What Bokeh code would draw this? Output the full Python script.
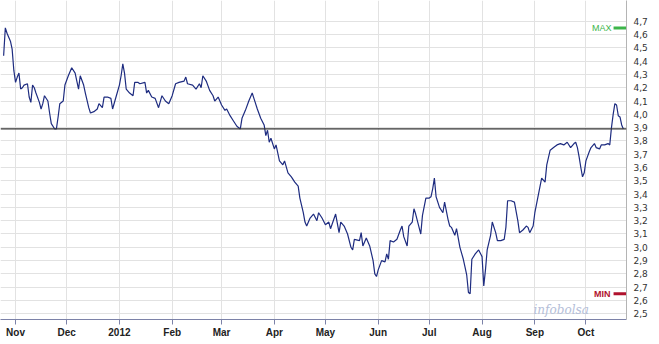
import pandas as pd
from bokeh.plotting import figure
from bokeh.models import (FixedTicker, CustomJSTickFormatter, Span, Label, Range1d)
from bokeh.embed import file_html
from bokeh.resources import INLINE

dates = [
    "2011-10-25", "2011-10-26", "2011-10-27", "2011-10-29", "2011-10-30", "2011-10-31",
    "2011-11-01", "2011-11-02", "2011-11-03", "2011-11-04", "2011-11-05", "2011-11-06",
    "2011-11-08", "2011-11-09", "2011-11-10", "2011-11-11", "2011-11-12", "2011-11-13",
    "2011-11-15", "2011-11-16", "2011-11-17", "2011-11-18", "2011-11-20", "2011-11-21",
    "2011-11-22", "2011-11-24", "2011-11-25", "2011-11-26", "2011-11-27", "2011-11-29",
    "2011-11-30", "2011-12-02", "2011-12-04", "2011-12-06", "2011-12-07", "2011-12-08",
    "2011-12-09", "2011-12-11", "2011-12-12", "2011-12-14", "2011-12-15", "2011-12-17",
    "2011-12-19", "2011-12-20", "2011-12-22", "2011-12-23", "2011-12-25", "2011-12-27",
    "2011-12-28", "2011-12-30", "2012-01-01", "2012-01-02", "2012-01-03", "2012-01-04",
    "2012-01-05", "2012-01-07", "2012-01-09", "2012-01-10", "2012-01-12", "2012-01-13",
    "2012-01-16", "2012-01-17", "2012-01-18", "2012-01-20", "2012-01-22", "2012-01-24",
    "2012-01-26", "2012-01-28", "2012-01-30", "2012-02-01", "2012-02-03", "2012-02-05",
    "2012-02-08", "2012-02-09", "2012-02-10", "2012-02-13", "2012-02-15", "2012-02-17",
    "2012-02-18", "2012-02-19", "2012-02-21", "2012-02-23", "2012-02-25", "2012-02-26",
    "2012-02-28", "2012-03-01", "2012-03-03", "2012-03-04", "2012-03-06", "2012-03-08",
    "2012-03-10", "2012-03-12", "2012-03-13", "2012-03-15", "2012-03-17", "2012-03-19",
    "2012-03-20", "2012-03-22", "2012-03-24", "2012-03-26", "2012-03-27", "2012-03-28",
    "2012-03-29", "2012-03-30", "2012-04-01", "2012-04-02", "2012-04-04", "2012-04-06",
    "2012-04-07", "2012-04-09", "2012-04-11", "2012-04-13", "2012-04-15", "2012-04-16",
    "2012-04-18", "2012-04-19", "2012-04-20", "2012-04-22", "2012-04-24", "2012-04-26",
    "2012-04-27", "2012-04-29", "2012-05-01", "2012-05-03", "2012-05-04", "2012-05-07",
    "2012-05-09", "2012-05-10", "2012-05-12", "2012-05-14", "2012-05-16", "2012-05-17",
    "2012-05-18", "2012-05-21", "2012-05-22", "2012-05-23", "2012-05-25", "2012-05-27",
    "2012-05-29", "2012-05-30", "2012-05-31", "2012-06-01", "2012-06-03", "2012-06-05",
    "2012-06-06", "2012-06-07", "2012-06-08", "2012-06-10", "2012-06-12", "2012-06-14",
    "2012-06-15", "2012-06-16", "2012-06-18", "2012-06-19", "2012-06-21", "2012-06-22",
    "2012-06-23", "2012-06-25", "2012-06-26", "2012-06-27", "2012-06-29", "2012-07-01",
    "2012-07-02", "2012-07-03", "2012-07-04", "2012-07-05", "2012-07-07", "2012-07-09",
    "2012-07-10", "2012-07-12", "2012-07-13", "2012-07-14", "2012-07-16", "2012-07-17",
    "2012-07-19", "2012-07-21", "2012-07-22", "2012-07-23", "2012-07-24", "2012-07-25",
    "2012-07-26", "2012-07-28", "2012-07-30", "2012-08-01", "2012-08-02", "2012-08-03",
    "2012-08-04", "2012-08-06", "2012-08-07", "2012-08-09", "2012-08-10", "2012-08-12",
    "2012-08-14", "2012-08-15", "2012-08-16", "2012-08-18", "2012-08-20", "2012-08-22",
    "2012-08-23", "2012-08-25", "2012-08-27", "2012-08-28", "2012-08-29", "2012-08-31",
    "2012-09-01", "2012-09-03", "2012-09-05", "2012-09-07", "2012-09-08", "2012-09-10",
    "2012-09-12", "2012-09-14", "2012-09-16", "2012-09-18", "2012-09-20", "2012-09-22",
    "2012-09-24", "2012-09-25", "2012-09-26", "2012-09-27", "2012-09-28", "2012-09-29",
    "2012-09-30", "2012-10-01", "2012-10-03", "2012-10-04", "2012-10-06", "2012-10-07",
    "2012-10-09", "2012-10-10", "2012-10-12", "2012-10-14", "2012-10-15", "2012-10-16",
    "2012-10-17", "2012-10-18", "2012-10-19", "2012-10-20", "2012-10-21", "2012-10-22",
    "2012-10-23",
]

prices = [
    4.44, 4.65, 4.61, 4.55, 4.49, 4.33,
    4.24, 4.28, 4.31, 4.19, 4.20, 4.22,
    4.23, 4.13, 4.09, 4.22, 4.20, 4.16,
    4.09, 4.04, 4.08, 4.14, 4.10, 4.01,
    3.93, 3.89, 3.89, 3.98, 4.08, 4.10,
    4.22, 4.29, 4.35, 4.31, 4.25, 4.19,
    4.29, 4.22, 4.16, 4.05, 4.01, 4.02,
    4.04, 4.08, 4.05, 4.13, 4.13, 4.12,
    4.04, 4.13, 4.22, 4.29, 4.38, 4.31,
    4.19, 4.16, 4.14, 4.24, 4.24, 4.23,
    4.24, 4.16, 4.18, 4.13, 4.12, 4.05,
    4.14, 4.10, 4.08, 4.14, 4.23, 4.24,
    4.25, 4.28, 4.23, 4.22, 4.19, 4.23,
    4.20, 4.29, 4.25, 4.18, 4.14, 4.10,
    4.13, 4.07, 4.03, 4.04, 3.99, 3.95,
    3.91, 3.89, 3.97, 4.03, 4.10, 4.16,
    4.12, 4.04, 3.97, 3.92, 3.84, 3.88,
    3.79, 3.82, 3.74, 3.77, 3.65, 3.62,
    3.65, 3.56, 3.53, 3.49, 3.46, 3.37,
    3.26, 3.19, 3.16, 3.22, 3.25, 3.20,
    3.26, 3.22, 3.17, 3.19, 3.14, 3.25,
    3.11, 3.19, 3.16, 3.10, 3.00, 2.98,
    3.06, 3.05, 3.11, 3.01, 3.07, 3.01,
    2.90, 2.80, 2.78, 2.83, 2.90, 2.89,
    2.95, 2.91, 3.05, 3.04, 3.06, 3.13,
    3.16, 3.08, 3.01, 3.16, 3.19, 3.29,
    3.25, 3.15, 3.10, 3.24, 3.37, 3.37,
    3.38, 3.44, 3.52, 3.38, 3.30, 3.26,
    3.34, 3.21, 3.16, 3.15, 3.09, 3.14,
    3.00, 2.91, 2.85, 2.79, 2.66, 2.65,
    2.91, 2.95, 2.98, 2.93, 2.71, 2.83,
    2.98, 3.09, 3.19, 3.11, 3.05, 3.05,
    3.06, 3.15, 3.35, 3.35, 3.34, 3.20,
    3.11, 3.13, 3.16, 3.15, 3.11, 3.16,
    3.26, 3.39, 3.52, 3.49, 3.62, 3.73,
    3.75, 3.77, 3.78, 3.77, 3.79, 3.75,
    3.78, 3.79, 3.75, 3.68, 3.60, 3.53,
    3.56, 3.65, 3.72, 3.75, 3.78, 3.75,
    3.74, 3.77, 3.77, 3.78, 3.77, 3.90,
    4.00, 4.08, 4.07, 3.99, 3.98, 3.92,
    3.89,
]

month_ticks = ["2011-11-01", "2011-12-01", "2012-01-01", "2012-02-01", "2012-03-01",
               "2012-04-01", "2012-05-01", "2012-06-01", "2012-07-01", "2012-08-01",
               "2012-09-01", "2012-10-01"]
month_labels = ["Nov", "Dec", "2012", "Feb", "Mar", "Apr", "May", "Jun", "Jul",
                "Aug", "Sep", "Oct"]
y_ticks = [2.5, 2.6, 2.7, 2.8, 2.9, 3.0, 3.1, 3.2, 3.3, 3.4, 3.5, 3.6,
           3.7, 3.8, 3.9, 4.0, 4.1, 4.2, 4.3, 4.4, 4.5, 4.6, 4.7]
reference_price = 3.89


def ms(s):
    return pd.Timestamp(s).value / 1e6


x = pd.to_datetime(dates)
x_start = ms("2011-10-23 04:00")
x_end = ms("2012-10-24 20:00")

p = figure(width=659, height=344, x_axis_type="datetime", y_axis_location="right",
           output_backend="svg", toolbar_location=None,
           x_range=Range1d(x_start, x_end), y_range=Range1d(2.457, 4.856),
           min_border_left=0, min_border_top=0, min_border_right=33,
           min_border_bottom=25, outline_line_color=None,
           background_fill_color="white", border_fill_color="white")

tick_ms = [ms(t) for t in month_ticks]
p.xaxis.ticker = FixedTicker(ticks=tick_ms)
p.xaxis.major_label_overrides = {t: lab for t, lab in zip(tick_ms, month_labels)}
p.xaxis.axis_line_color = "#7c82a8"
p.xaxis.major_tick_line_color = "#7c82a8"
p.xaxis.major_tick_out = 5
p.xaxis.major_tick_in = 0
p.xaxis.minor_tick_line_color = None
p.xaxis.major_label_text_font = "Liberation Sans"
p.xaxis.major_label_text_font_size = "10px"
p.xaxis.major_label_text_font_style = "bold"
p.xaxis.major_label_text_color = "#222222"
p.xaxis.major_label_standoff = 2

p.yaxis.ticker = FixedTicker(ticks=y_ticks)
p.yaxis.formatter = CustomJSTickFormatter(code="return tick.toFixed(1).replace('.', ',');")
p.yaxis.axis_line_color = "#b4b4b4"
p.yaxis.major_tick_line_color = None
p.yaxis.major_tick_out = 0
p.yaxis.major_tick_in = 0
p.yaxis.minor_tick_line_color = None
p.yaxis.major_label_standoff = 7
p.yaxis.major_label_text_font = "DejaVu Sans"
p.yaxis.major_label_text_font_size = "9px"
p.yaxis.major_label_text_color = "#333333"

p.xgrid.ticker = FixedTicker(ticks=tick_ms)
p.ygrid.ticker = FixedTicker(ticks=y_ticks)
p.xgrid.grid_line_color = "#e2e2e2"
p.ygrid.grid_line_color = "#e2e2e2"

p.add_layout(Span(location=reference_price, dimension="width",
                  line_color="#333333", line_width=1.3))

p.line(x, prices, line_color="#1e2c80", line_width=1.2)

vmax = max(prices)
vmin = min(prices)
bar_len = 7.6 * 86400000
p.segment(x0=[x_end - bar_len], x1=[x_end], y0=[vmax], y1=[vmax],
          line_color="#3cb54a", line_width=3)
p.segment(x0=[x_end - bar_len], x1=[x_end], y0=[vmin], y1=[vmin],
          line_color="#b0122e", line_width=3)
p.add_layout(Label(x=611, x_units="screen", y=vmax, text="MAX", text_align="right",
                   text_baseline="middle", text_color="#3cb54a", text_font_size="9px",
                   text_font="Liberation Sans"))
p.add_layout(Label(x=610, x_units="screen", y=vmin, text="MIN", text_align="right",
                   text_baseline="middle", text_color="#b0122e", text_font_size="9px",
                   text_font="Liberation Sans", text_font_style="bold"))
p.add_layout(Label(x=533, x_units="screen", y=2.53, text="infobolsa",
                   text_baseline="middle", text_color="#b4bed8", text_font_size="12px",
                   text_font="DejaVu Serif", text_font_style="italic"))

open("out.html", "w").write(file_html(p, INLINE))
